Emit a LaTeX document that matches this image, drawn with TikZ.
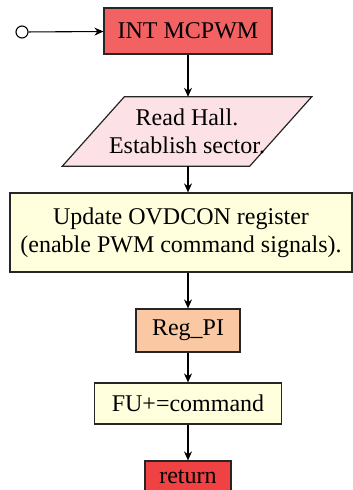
\documentclass[tikz,border=0pt]{standalone}
\usepackage{fontspec}
\setmainfont{Liberation Serif}
\newfontfamily\flowfont{Liberation Serif}
\usepackage{tikz}
\usetikzlibrary{arrows.meta,backgrounds}

\definecolor{intred}{RGB}{242,98,98}
\definecolor{retred}{RGB}{240,66,66}
\definecolor{hallpink}{RGB}{252,226,230}
\definecolor{lightyel}{RGB}{255,255,222}
\definecolor{peach}{RGB}{250,200,162}

\tikzset{
    box/.style={draw=black!85, line width=1.2pt, shape=rectangle, inner sep=0pt, align=center},
    flow/.style={-{Stealth[length=9pt,width=8pt]}, line width=1.1pt}
}

\begin{document}
\begin{tikzpicture}[x=1pt, y=-1pt, font=\flowfont\fontsize{24}{28}\selectfont]
                        \path[use as bounding box] (0,0) rectangle (353,490);
                        \clip (0,0) rectangle (353,490);

                        \node (start) at (22,32) [shape=circle, draw, line width=1.1pt, fill=white, minimum size=12pt, inner sep=0pt] {};
                        \node[box, fill=intred] (int) at (188,31) [minimum width=168pt, minimum height=46pt] {INT MCPWM};
                        \node (hall) at (187,131.5) [inner sep=0pt, align=center, minimum width=187pt, minimum height=69pt] {Read Hall.\\Establish sector.};
                        \node[box, fill=lightyel] (ovd) at (181,232.5) [minimum width=342pt, minimum height=79pt] {Update OVDCON register\\(enable PWM command signals).};
                        \node[box, fill=peach] (reg) at (188,330.5) [minimum width=104pt, minimum height=43pt] {Reg\_PI};
                        \node[box, fill=lightyel] (fu) at (188,403.5) [minimum width=187pt, minimum height=41pt] {FU+=command};
                        \node[box, fill=retred] (ret) at (188,477) [minimum width=86pt, minimum height=32pt] {return};

                        % parallelogram round the hall text
                        \begin{scope}[on background layer]
                        \draw[fill=hallpink, draw=black!85, line width=1.2pt]
                            ([xshift=31pt]hall.north west) -- ([xshift=31pt]hall.north east)
                            -- ([xshift=-31pt]hall.south east) -- ([xshift=-31pt]hall.south west) -- cycle;
                        \end{scope}

                        \path	[flow]	(start)	edge 	(int)
                        (int)	edge	(int |- hall.north)
                        (hall.south -| reg)	edge	(ovd.north -| reg)
                        (ovd.south -| reg)	edge	(reg)
                        (reg)	edge	(fu)
                        (fu)	edge	(ret);
                    \end{tikzpicture}
\end{document}
